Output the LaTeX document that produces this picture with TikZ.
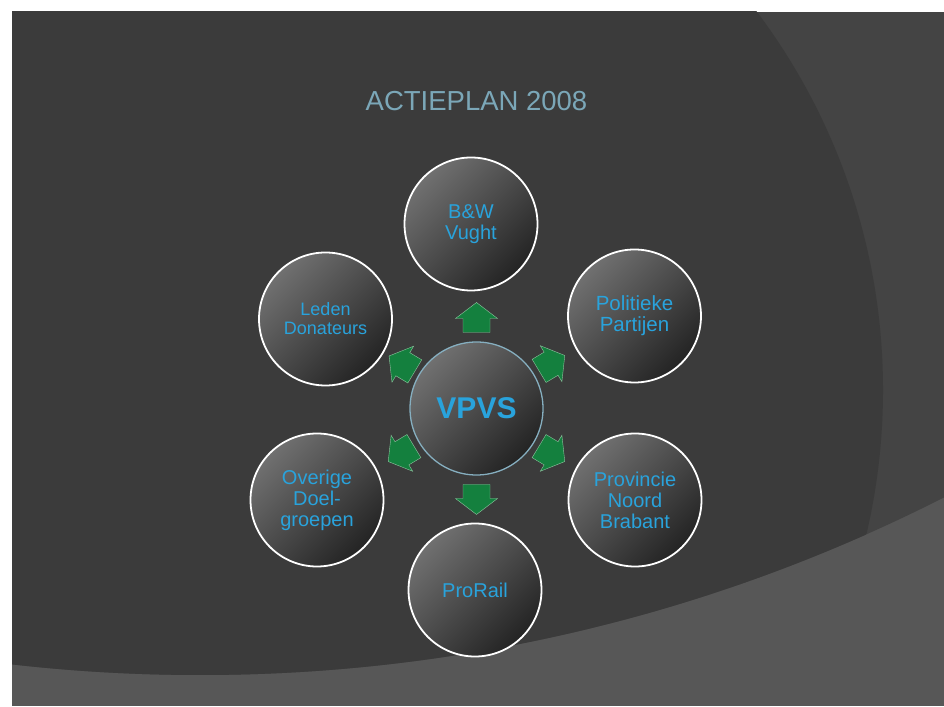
\documentclass[tikz,border=0pt]{standalone}
\usepackage{fontspec}
\setmainfont{Liberation Sans}
\usepackage{xcolor}
\usetikzlibrary{calc,positioning}

\definecolor{slidedark}{HTML}{3B3B3B}
\definecolor{slidemid}{HTML}{444444}
\definecolor{slidelight}{HTML}{575757}
\definecolor{titleblue}{HTML}{7BA7B8}
\definecolor{textblue}{HTML}{29A3DC}
\definecolor{arrowgreen}{HTML}{14803E}
\definecolor{arrowedge}{HTML}{8FC4A0}
\definecolor{ringblue}{HTML}{86AFC0}

\tikzset{
  party/.style={circle, minimum size=133pt, inner sep=0pt, draw=white, line width=1.8pt,
    top color=black!56, bottom color=black!86, shading angle=45,
    text=textblue, align=center, font=\fontsize{20}{21}\selectfont},
  hub/.style={party, draw=ringblue, line width=1.3pt, font=\fontsize{30}{32}\selectfont\bfseries},
  pics/outarrow/.style={code={
    \fill[arrowgreen, draw=arrowedge, line width=0.4pt]
      (0,15) -- (21,-1) -- (13.5,-1) -- (13.5,-15) -- (-13.5,-15) -- (-13.5,-1) -- (-21,-1) -- cycle;}}
}

\begin{document}
\begin{tikzpicture}[x=1pt,y=1pt]
    \useasboundingbox (0,0) rectangle (944,706);
    % slide background
    \fill[white] (0,0) rectangle (944,706);
    \begin{scope}
        \clip (12,0) rectangle (944,694);
        \fill[slidelight] (12,0) rectangle (944,694);
        \clip (200,1675) circle (1644);
        \fill[slidemid] (12,0) rectangle (944,694);
        \fill[slidedark] (253,316) circle (630);
    \end{scope}

    \node[font=\fontsize{27.5}{30}\selectfont, text=titleblue, anchor=base] (title) at (476.5,595) {ACTIEPLAN 2008};

    % cycle
    \node[hub] (vpvs) at (476.5,297.5) {VPVS};
    \node[party] (bw) at (471,482) {B\&W\\Vught};
    \node[party, font=\fontsize{18}{19}\selectfont] (leden) at (325.5,387) {Leden\\Donateurs};
    \node[party, font=\fontsize{20.5}{21}\selectfont] (partijen) at (634.5,390) {Politieke\\Partijen};
    \node[party] (overig) at (317,206) {Overige\\Doel-\\groepen};
    \node[party] (provincie) at (635,206) {Provincie\\Noord\\Brabant};
    \node[party] (prorail) at (475,116) {ProRail};

    % arrows out of the hub
    \foreach \ang/\dist in {90/91, 149/87, 31/88, -31/88, -149/88, -90/91}
        \pic[rotate=\ang-90] at ($(vpvs)+(\ang:\dist)$) {outarrow};
\end{tikzpicture}
\end{document}
